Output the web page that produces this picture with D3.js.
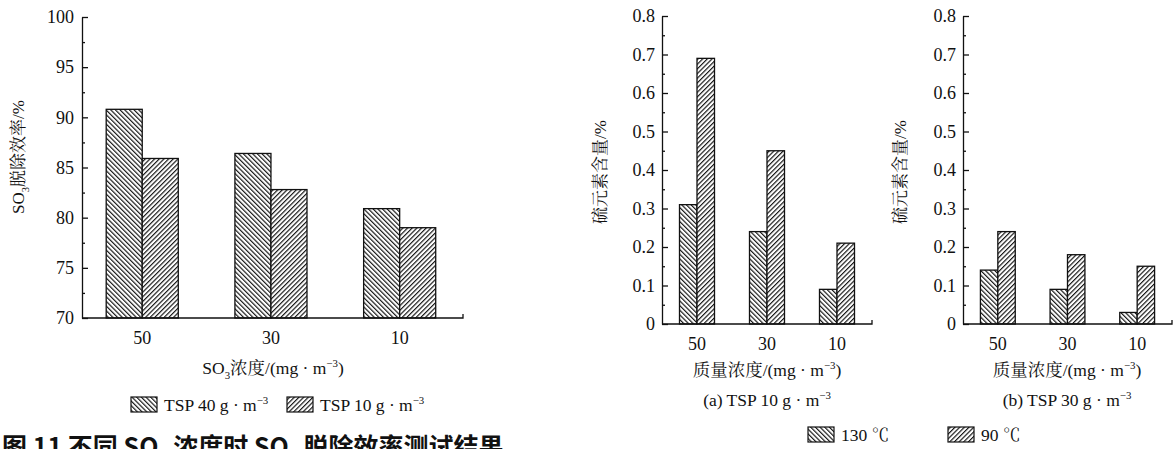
<!DOCTYPE html>
<html>
<head>
<meta charset="utf-8">
<script src="https://cdn.jsdelivr.net/npm/d3@7"></script>
</head>
<body style="margin:0; background:#fff">
<div id="fig"></div>
<script>
// data
const concLabels = ["50", "30", "10"];

// left: SO3 removal efficiency (%)
const effTsp40 = [90.8, 86.4, 80.9];
const effTsp10 = [85.9, 82.8, 79.0];
const effTicks = [70, 75, 80, 85, 90, 95, 100];

// (a) TSP 10 g/m3, sulfur content (%)
const sulfurA130 = [0.31, 0.24, 0.09];
const sulfurA90 = [0.69, 0.45, 0.21];
// (b) TSP 30 g/m3
const sulfurB130 = [0.14, 0.09, 0.03];
const sulfurB90 = [0.24, 0.18, 0.15];
const sulfurTicks = [0, 0.1, 0.2, 0.3, 0.4, 0.5, 0.6, 0.7, 0.8];

const FONT = "'Liberation Serif', 'Noto Serif CJK SC', 'Noto Sans CJK SC', serif";
const svg = d3.select("#fig").append("svg").attr("width", 1173).attr("height", 449);

// hatch patterns
const defs = svg.append("defs");
function hatch(id, angle) {
  const p = defs.append("pattern").attr("id", id)
    .attr("patternUnits", "userSpaceOnUse")
    .attr("width", 3.3).attr("height", 3.3)
    .attr("patternTransform", `rotate(${angle})`);
  p.append("rect").attr("width", 3.3).attr("height", 3.3).attr("fill", "#fff");
  p.append("line").attr("x1", 0.6).attr("y1", 0).attr("x2", 0.6).attr("y2", 3.3)
    .attr("stroke", "#111").attr("stroke-width", 1.15);
}
hatch("back", -45);  // "\\"
hatch("fwd", 45);    // "//"

// text with sub/superscript pieces
function rich(parent, pieces, size, family) {
  const sel = parent.append("text")
    .style("font-family", family || FONT).style("font-size", size + "px").style("fill", "#111");
  let back = 0;
  pieces.forEach(p => {
    if (typeof p === "string") {
      const t = sel.append("tspan").text(p);
      if (back) { t.attr("dy", back); back = 0; }
      return;
    }
    const dy = p.sub ? size * 0.3 : -size * 0.42;
    sel.append("tspan").attr("dy", dy + back).style("font-size", (size * 0.62) + "px").text(p.t);
    back = -dy;
  });
  return sel;
}

function chart(cfg) {
  const g = svg.append("g");
  const x = d3.scaleBand().domain(concLabels).range([cfg.x0, cfg.x1])
    .paddingInner(cfg.pIn).paddingOuter(cfg.pOut).align(cfg.align);
  const xs = d3.scaleBand().domain([0, 1]).range([0, x.bandwidth()]);
  const y = d3.scaleLinear().domain(cfg.domain).range([cfg.yBot, cfg.yTop]);

  // bars
  cfg.series.forEach((vals, si) => {
    g.selectAll(null).data(vals).enter().append("rect")
      .attr("x", (d, i) => x(concLabels[i]) + xs(si))
      .attr("width", xs.bandwidth())
      .attr("y", d => y(d))
      .attr("height", d => y(cfg.domain[0]) - y(d))
      .attr("fill", `url(#${si === 0 ? "back" : "fwd"})`)
      .attr("stroke", "#111").attr("stroke-width", 1.3);
  });

  // y axis: major ticks inward, minor ticks between
  const step = cfg.ticks[1] - cfg.ticks[0];
  const minors = cfg.ticks.slice(0, -1).map(t => t + step / 2);
  const ya = g.append("g").attr("transform", `translate(${cfg.x0},0)`)
    .call(d3.axisLeft(y).tickValues(cfg.ticks).tickSizeInner(-6).tickSizeOuter(0)
      .tickPadding(cfg.tickPad).tickFormat(cfg.fmt));
  ya.append("g").call(d3.axisLeft(y).tickValues(minors).tickSize(-3).tickFormat(""))
    .select(".domain").remove();
  ya.attr("font-family", null).attr("font-size", null);
  ya.selectAll("text").style("font-family", FONT).style("font-size", "18px").style("fill", "#111");
  ya.selectAll("line, path").attr("stroke", "#111").attr("stroke-width", 1.3);

  // x axis
  const xa = g.append("g").attr("transform", `translate(0,${cfg.yBot})`)
    .call(d3.axisBottom(x).tickSize(0).tickPadding(13));
  xa.attr("font-family", null).attr("font-size", null);
  xa.select(".domain").attr("d", `M${cfg.x0},0H${cfg.x1}V-4`);
  xa.selectAll("text").style("font-family", FONT).style("font-size", "18px").style("fill", "#111");
  xa.selectAll("path").attr("stroke", "#111").attr("stroke-width", 1.3);

  // axis titles
  rich(g, cfg.ylabel, cfg.ylSize).attr("text-anchor", "middle")
    .attr("transform", `translate(${cfg.ylX},${cfg.ylY}) rotate(-90)`);
  rich(g, cfg.xlabel, 17.5).attr("text-anchor", "middle").attr("x", cfg.xlX).attr("y", cfg.xlY);
  if (cfg.sub) {
    rich(g, cfg.sub, 17.5).attr("text-anchor", "middle").attr("x", cfg.xlX).attr("y", cfg.xlY + 30);
  }
}

const unitPieces = ["(mg · m", {t: "−3"}, ")"];
const sulfurFmt = d => d === 0 ? "0" : d3.format(".1f")(d);

chart({
  x0: 82, x1: 463, yTop: 17, yBot: 318, domain: [70, 100], ticks: effTicks,
  pIn: 0.44, pOut: 0.2, align: 0.47, tickPad: 8, fmt: d3.format("d"),
  series: [effTsp40, effTsp10],
  ylabel: ["SO", {t: "3", sub: true}, "脱除效率/%"], ylSize: 17, ylX: 24, ylY: 157,
  xlabel: ["SO", {t: "3", sub: true}, "浓度/"].concat(unitPieces), xlX: 273, xlY: 374
});
chart({
  x0: 662, x1: 872, yTop: 16, yBot: 324, domain: [0, 0.8], ticks: sulfurTicks,
  pIn: 0.5, pOut: 0.25, align: 0.5, tickPad: 7, fmt: sulfurFmt,
  series: [sulfurA130, sulfurA90],
  ylabel: ["硫元素含量/%"], ylSize: 17, ylX: 606, ylY: 172,
  xlabel: ["质量浓度/"].concat(unitPieces), xlX: 767, xlY: 376,
  sub: ["(a) TSP 10 g · m", {t: "−3"}]
});
chart({
  x0: 963, x1: 1172, yTop: 16, yBot: 324, domain: [0, 0.8], ticks: sulfurTicks,
  pIn: 0.5, pOut: 0.25, align: 0.5, tickPad: 7, fmt: sulfurFmt,
  series: [sulfurB130, sulfurB90],
  ylabel: ["硫元素含量/%"], ylSize: 17, ylX: 906, ylY: 172,
  xlabel: ["质量浓度/"].concat(unitPieces), xlX: 1067, xlY: 376,
  sub: ["(b) TSP 30 g · m", {t: "−3"}]
});

// legends
function legendItem(x, y, pat, pieces) {
  svg.append("rect").attr("x", x).attr("y", y).attr("width", 26).attr("height", 15)
    .attr("fill", `url(#${pat})`).attr("stroke", "#111").attr("stroke-width", 1.2);
  rich(svg, pieces, 17.5).attr("x", x + 33).attr("y", y + 14);
}
legendItem(131, 397, "back", ["TSP 40 g · m", {t: "−3"}]);
legendItem(287, 397, "fwd", ["TSP 10 g · m", {t: "−3"}]);
legendItem(808, 427, "back", ["130 ℃"]);
legendItem(948, 427, "fwd", ["90 ℃"]);

// caption, cut by the bottom edge as in the source
rich(svg, ["图 11  不同 SO", {t: "3", sub: true}, " 浓度时 SO", {t: "3", sub: true}, " 脱除效率测试结果"],
  25, "'Noto Sans CJK SC', sans-serif")
  .style("font-weight", "bold").attr("x", 2).attr("y", 456);
</script>
</body>
</html>
